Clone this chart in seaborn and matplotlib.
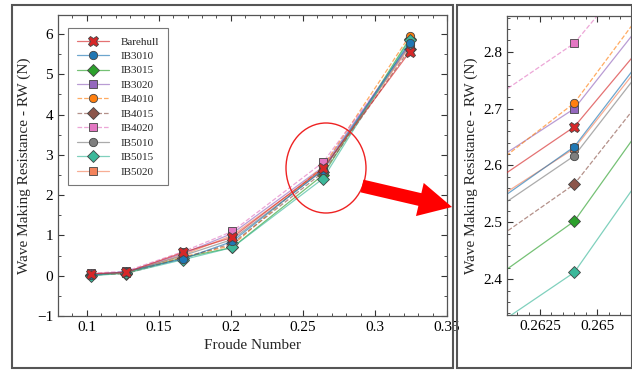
import numpy as np
import matplotlib
matplotlib.use("Agg")
import matplotlib.pyplot as plt
import matplotlib.ticker as mticker
from matplotlib.patches import Rectangle, Ellipse, Polygon
from matplotlib.colors import to_rgba
import seaborn as sns

froude = [0.103, 0.127, 0.167, 0.201, 0.264, 0.324]

barehull = [0.05, 0.08, 0.58, 0.95, 2.668, 5.55]
ib3010 = [0.02, 0.10, 0.42, 0.85, 2.633, 5.78]
ib3015 = [0.01, 0.07, 0.45, 0.70, 2.502, 5.88]
ib3020 = [0.04, 0.09, 0.55, 1.05, 2.700, 5.75]
ib4010 = [0.03, 0.06, 0.47, 0.75, 2.710, 5.95]
ib4015 = [0.02, 0.05, 0.44, 0.80, 2.567, 5.62]
ib4020 = [0.06, 0.11, 0.60, 1.10, 2.815, 5.70]
ib5010 = [0.01, 0.08, 0.50, 0.90, 2.617, 5.72]
ib5015 = [0.00, 0.06, 0.40, 0.70, 2.412, 5.85]
ib5020 = [0.03, 0.07, 0.52, 1.00, 2.630, 5.68]

names = ["Barehull", "IB3010", "IB3015", "IB3020", "IB4010",
         "IB4015", "IB4020", "IB5010", "IB5015", "IB5020"]
values = [barehull, ib3010, ib3015, ib3020, ib4010,
          ib4015, ib4020, ib5010, ib5015, ib5020]
colors = ["#d62728", "#1f77b4", "#2ca02c", "#9467bd", "#ff7f0e",
          "#8c564b", "#e377c2", "#7f7f7f", "#3cb89a", "#f4835c"]
markers = ["X", "o", "D", "s", "o", "D", "s", "o", "D", "s"]
msizes = [7.5, 6, 6, 6, 6, 6, 6, 6, 6, 6]
styles = ["-", "-", "-", "-", "--", "--", "--", "-", "-", "-"]
zorders = [3.0, 2.5, 2.4, 2.4, 2.4, 2.4, 2.4, 2.4, 2.4, 2.2]

W, H = 632, 370

sns.set_style("ticks")
plt.rcParams["font.family"] = ["Liberation Serif", "DejaVu Serif"]
plt.rcParams["axes.unicode_minus"] = True

fig = plt.figure(figsize=(W / 100, H / 100), dpi=100)

def px(x0, y0, x1, y1):
    # pixel box (y down) -> figure fraction [left, bottom, width, height]
    return [x0 / W, 1 - y1 / H, (x1 - x0) / W, (y1 - y0) / H]

ax = fig.add_axes(px(58, 15, 447, 316))
axz = fig.add_axes(px(507, 16, 645, 315))

def draw(a):
    for name, vals, c, m, ms, ls, z in zip(names, values, colors, markers,
                                          msizes, styles, zorders):
        sns.lineplot(x=froude, y=vals, ax=a, label=name, color=to_rgba(c, 0.65),
                     linestyle=ls, linewidth=0.9, marker=m, markersize=ms,
                     markerfacecolor=c, markeredgecolor="#444444",
                     markeredgewidth=0.6, zorder=z)

draw(ax)
draw(axz)

fmt = mticker.FuncFormatter(lambda v, p: ("%g" % v).replace("-", "\u2212"))

ax.set_xlim(0.08, 0.35)
ax.set_ylim(-1, 6.47)
ax.xaxis.set_major_locator(mticker.MultipleLocator(0.05))
ax.xaxis.set_minor_locator(mticker.MultipleLocator(0.01))
ax.yaxis.set_major_locator(mticker.MultipleLocator(1))
ax.yaxis.set_minor_locator(mticker.MultipleLocator(0.5))
ax.xaxis.set_major_formatter(fmt)
ax.yaxis.set_major_formatter(fmt)
ax.set_xlabel("Froude Number", fontsize=11)
ax.set_ylabel("Wave Making Resistance - RW (N)", fontsize=11)

axz.set_xlim(0.26105, 0.2671)
axz.set_ylim(2.337, 2.863)
axz.xaxis.set_major_locator(mticker.FixedLocator([0.2625, 0.265]))
axz.xaxis.set_minor_locator(mticker.MultipleLocator(0.0005))
axz.yaxis.set_major_locator(mticker.MultipleLocator(0.1))
axz.yaxis.set_minor_locator(mticker.MultipleLocator(0.02))
axz.xaxis.set_major_formatter(fmt)
axz.yaxis.set_major_formatter(fmt)
axz.set_xlabel("")
axz.set_ylabel("Wave Making Resistance - RW (N)", fontsize=11)
if axz.get_legend() is not None:
    axz.get_legend().remove()

for a in (ax, axz):
    a.tick_params(which="both", direction="in", top=True, right=True,
                  labelsize=11, colors="#333333", labelcolor="black")
    a.tick_params(which="major", length=4, width=0.8)
    a.tick_params(which="minor", length=2, width=0.6)
    for s in a.spines.values():
        s.set_color("#555555")
        s.set_linewidth(0.9)

leg = ax.legend(loc="upper left", bbox_to_anchor=(0.026, 0.957), borderaxespad=0,
                fontsize=8, handlelength=2.9, handletextpad=1.0,
                labelspacing=0.42, fancybox=False, edgecolor="#777777",
                framealpha=1, borderpad=0.8)
leg.get_frame().set_linewidth(0.8)

# panel frames
for x0, x1 in [(12, 453), (457, 632)]:
    b = px(x0, 5, x1, 368)
    fig.add_artist(Rectangle((b[0], b[1]), b[2], b[3], transform=fig.transFigure,
                             fill=False, edgecolor="#555555", linewidth=1.5))

# red circle
fig.add_artist(Ellipse((326 / W, 1 - 168 / H), 80 / W, 90 / H,
                       transform=fig.transFigure, fill=False,
                       edgecolor="#ee2222", linewidth=1.0, zorder=10))

# red arrow
start = np.array([362.0, 186.0])
tip = np.array([452.0, 207.0])
d = (tip - start) / np.linalg.norm(tip - start)
n = np.array([-d[1], d[0]])
base = tip - 33 * d
pts = [start + 6.5 * n, base + 6.5 * n, base + 17 * n, tip,
       base - 17 * n, base - 6.5 * n, start - 6.5 * n]
pts = [(p[0] / W, 1 - p[1] / H) for p in pts]
fig.add_artist(Polygon(pts, closed=True, transform=fig.transFigure,
                       facecolor="#ff0000", edgecolor="none", zorder=10))

fig.savefig("out.png", dpi=100)
